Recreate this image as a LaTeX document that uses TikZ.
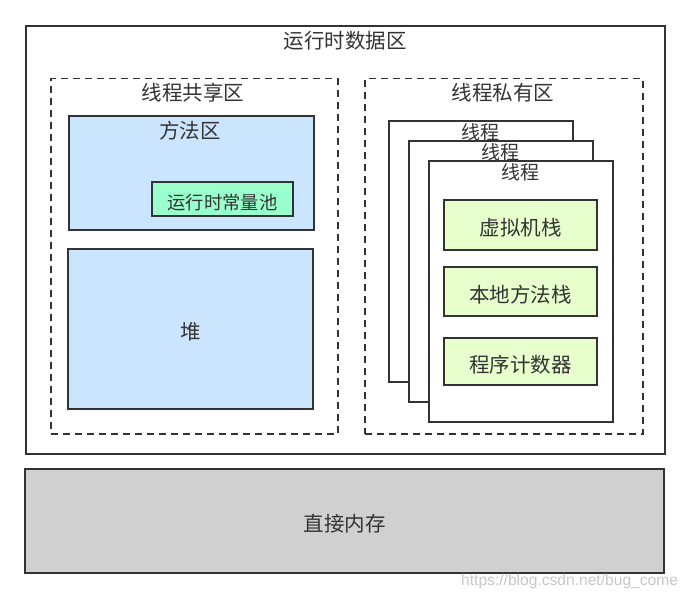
\documentclass[tikz,border=0pt]{standalone}
\usepackage{fontspec}
\setmainfont{Noto Sans CJK SC}
\newfontfamily\wmfont{Liberation Sans}
\definecolor{qianlan}{HTML}{CCE5FF}
\definecolor{qianlv}{HTML}{E6FFCC}
\definecolor{bohe}{HTML}{99FFCC}
\definecolor{huise}{HTML}{D0D0D0}
\definecolor{xian}{HTML}{333333}
\begin{document}
\begin{tikzpicture}[x=1pt,y=-1pt,font=\fontsize{20.5}{24}\selectfont,text=xian,
    kuang/.style={draw=xian,line width=1.6pt,inner sep=0pt,anchor=north west,text height=23.5pt,text depth=2.5pt},
    xukuang/.style={kuang,line width=1.5pt,dash pattern=on 7pt off 5pt}]
    \useasboundingbox (0,0) rectangle (690,599);
    % 运行时数据区
    \node[kuang,fill=white,minimum width=639pt,minimum height=428pt] (sjq) at (25,25) {};
    \node at (345,41) (sjqt) {运行时数据区};
    % 线程共享区
    \node[xukuang,minimum width=287pt,minimum height=355pt] (gx) at (50,78) {};
    \node at (193,93) (gxt) {线程共享区};
    \node[kuang,fill=qianlan,minimum width=245pt,minimum height=114pt] (ff) at (68,115) {};
    \node at (190,131) (fft) {方法区};
    \node[kuang,fill=bohe,minimum width=141pt,minimum height=34pt,anchor=center,font=\fontsize{18.3}{22}\selectfont] (clc) at (222.5,199) {运行时常量池};
    \node[kuang,fill=qianlan,minimum width=245pt,minimum height=160pt,anchor=center] (dui) at (190.5,329) {堆};
    % 线程私有区
    \node[xukuang,minimum width=278pt,minimum height=355pt] (sy) at (364,78) {};
    \node at (503,93) (syt) {线程私有区};
    \foreach \i in {0,1,2}
        { \node[kuang,fill=white,minimum width=184pt,minimum height=261pt] (xc\i) at (388+20*\i,120+20*\i) {};
          \node[font=\fontsize{19}{22}\selectfont] at (480+20*\i,132+20*\i) (xct\i) {线程}; }
    \node[kuang,fill=qianlv,minimum width=153pt,minimum height=50pt,anchor=center] (xnj) at (520.5,225) {虚拟机栈};
    \node[kuang,fill=qianlv,minimum width=153pt,minimum height=49pt,anchor=center] (bdf) at (520.5,291.5) {本地方法栈};
    \node[kuang,fill=qianlv,minimum width=153pt,minimum height=47pt,anchor=center] (jsq) at (520.5,361.5) {程序计数器};
    % 直接内存
    \node[kuang,fill=huise,minimum width=639pt,minimum height=104pt,anchor=center] (zj) at (344.5,521) {直接内存};
    \node[anchor=west,inner sep=0pt,text=black!22,font=\wmfont\fontsize{15.6}{18}\selectfont] (wm) at (461,581) {https://blog.csdn.net/bug\_come};
\end{tikzpicture}
\end{document}
